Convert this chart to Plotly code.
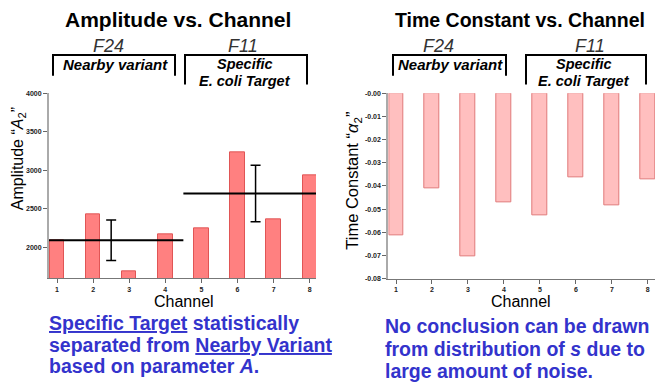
import plotly.graph_objects as go

W, H = 656, 385

channels = [1, 2, 3, 4, 5, 6, 7, 8]
amplitude = [2090, 2424, 1691, 2165, 2254, 3234, 2369, 2938]
time_constant = [-0.0611, -0.0410, -0.0702, -0.0472, -0.0528, -0.0364, -0.0484, -0.0370]
group_centers = [2.5, 6.5]
group_means = [2093, 2700]
group_errors = [262, 367]
amp_ticks = [2000, 2500, 3000, 3500, 4000]
tc_ticks = [0.0, -0.01, -0.02, -0.03, -0.04, -0.05, -0.06, -0.07, -0.08]
tc_ticklabels = ["-0.00", "-0.01", "-0.02", "-0.03", "-0.04", "-0.05", "-0.06", "-0.07", "-0.08"]

FONT = "Arial, Liberation Sans, sans-serif"


def px(x):
    return x / W


def py(y):
    return 1 - y / H


fig = go.Figure()

L_RANGE = [0.778, 8.174]
R_RANGE = [0.786, 8.2]

fig.add_trace(go.Bar(x=channels, y=amplitude, width=0.4,
                     marker=dict(color="#ff8080", line=dict(color="#e05555", width=1)),
                     xaxis="x", yaxis="y", showlegend=False))

# group mean lines
fig.add_trace(go.Scatter(x=[L_RANGE[0], 4.5], y=[group_means[0]] * 2, mode="lines",
                         line=dict(color="black", width=2), xaxis="x", yaxis="y", showlegend=False))
fig.add_trace(go.Scatter(x=[4.5, L_RANGE[1]], y=[group_means[1]] * 2, mode="lines",
                         line=dict(color="black", width=2), xaxis="x", yaxis="y", showlegend=False))
fig.add_trace(go.Scatter(x=group_centers, y=group_means, mode="markers",
                         marker=dict(size=1, color="black"),
                         error_y=dict(type="data", array=group_errors, color="black", thickness=1.5, width=5),
                         xaxis="x", yaxis="y", showlegend=False))

fig.add_trace(go.Bar(x=channels, y=time_constant, width=0.4,
                     marker=dict(color="#ffbfbf", line=dict(color="#e07a7a", width=1)),
                     xaxis="x2", yaxis="y2", showlegend=False))

tickfont = dict(family=FONT, size=7, color="#222", weight="bold")

fig.update_layout(
    width=W, height=H,
    margin=dict(l=0, r=0, t=0, b=0),
    paper_bgcolor="white", plot_bgcolor="white",
    bargap=0,
    xaxis=dict(domain=[px(49), px(316)], range=L_RANGE, tickvals=channels,
               ticks="outside", ticklen=4, tickcolor="#666", showline=True, linecolor="#777",
               linewidth=1, showgrid=False, zeroline=False, tickfont=tickfont, anchor="y"),
    yaxis=dict(domain=[py(279.3), py(91)], range=[1600, 4000], tickvals=amp_ticks,
               ticks="outside", ticklen=4, tickcolor="#666", showline=True, linecolor="#aaa",
               linewidth=2, showgrid=False, zeroline=False, tickfont=tickfont, anchor="x"),
    xaxis2=dict(domain=[px(388.3), px(655)], range=R_RANGE, tickvals=channels,
                ticks="outside", ticklen=4, tickcolor="#666", showline=True, linecolor="#777",
                linewidth=1, showgrid=False, zeroline=False, tickfont=tickfont, anchor="y2"),
    yaxis2=dict(domain=[py(279.7), py(91)], range=[-0.08, 0.0], tickvals=tc_ticks,
                ticktext=tc_ticklabels,
                ticks="outside", ticklen=4, tickcolor="#666", showline=True, linecolor="#aaa",
                linewidth=2, showgrid=False, zeroline=False, tickfont=tickfont, anchor="x2"),
)

ann = []


def text(x, y, s, size, color="black", xanchor="center", angle=0):
    ann.append(dict(x=px(x), y=py(y), xref="paper", yref="paper", text=s, showarrow=False,
                    xanchor=xanchor, yanchor="middle", textangle=angle,
                    font=dict(family=FONT, size=size, color=color)))


# titles
text(178, 16, "<b>Amplitude vs. Channel</b>", 21)
text(520, 16, "<b>Time Constant vs. Channel</b>", 19.5)

# group labels
for fx, gx in [(108, 243), (438, 590)]:
    text(fx, 43, "<i>F24</i>", 18, "#333")
    text(gx, 43, "<i>F11</i>", 18, "#333")
text(115, 62, "<b><i>Nearby variant</i></b>", 15)
text(245, 61.5, "<b><i>Specific</i></b>", 14.5)
text(245, 78, "<b><i>E. coli Target</i></b>", 14.5)
text(450, 62, "<b><i>Nearby variant</i></b>", 15)
text(584, 61.5, "<b><i>Specific</i></b>", 14.5)
text(584, 78, "<b><i>E. coli Target</i></b>", 14.5)

# axis titles
text(18, 158, "Amplitude “<i>A</i><sub>2</sub>”", 16, angle=-90)
text(353, 180, "Time Constant “<i>α</i><sub>2</sub>”", 16.5, angle=-90)
text(184, 303, "Channel", 16)
text(521, 303, "Channel", 16)

# conclusions
BLUE = "#3333cc"
text(47, 325, "<b><u>Specific Target</u> statistically</b>", 19.5, BLUE, "left")
text(47, 347, "<b>separated from <u>Nearby Variant</u></b>", 19.5, BLUE, "left")
text(47, 369, "<b>based on parameter <i>A</i>.</b>", 19.5, BLUE, "left")
text(383, 328, "<b>No conclusion can be drawn</b>", 19.5, BLUE, "left")
text(383, 351, "<b>from distribution of <i>s</i> due to</b>", 19.5, BLUE, "left")
text(383, 374, "<b>large amount of noise.</b>", 19.5, BLUE, "left")

fig.update_layout(annotations=ann)

shapes = []
for x0, x1, yb in [(53, 175, 73), (185, 307, 82), (393, 506, 73), (526, 646, 82)]:
    shapes.append(dict(type="path", xref="paper", yref="paper",
                       path=f"M {px(x0)},{py(yb)} L {px(x0)},{py(52)} L {px(x1)},{py(52)} L {px(x1)},{py(yb)}",
                       line=dict(color="black", width=2)))
fig.update_layout(shapes=shapes)

fig.write_html("out.html")
